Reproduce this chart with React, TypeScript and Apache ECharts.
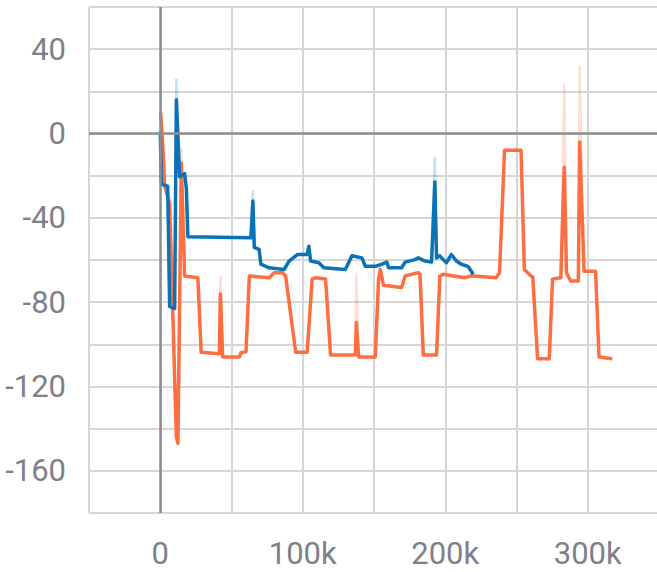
import React, { useEffect, useRef } from "react";
import * as echarts from "echarts";

// x in thousands of steps, y value
const blueSmoothed: [number, number][] = [
  [0, 1], [0.8, -24], [5.2, -25], [6.6, -82], [10.1, -83], [11.3, 16], [13.6, -20.5],
  [17.1, -19], [18.3, -26], [19.4, -49], [63.6, -49.5], [65, -32], [66, -54], [69.4, -55],
  [70.6, -62], [76.4, -63.7], [86.9, -64.5], [90.4, -60.5], [96.2, -57.4], [103.1, -57.4],
  [104.3, -53.5], [105.5, -60.5], [111.3, -61.3], [114.8, -63.7], [129.9, -64.5],
  [134.5, -58], [141.5, -59], [143.9, -63], [150.9, -63], [155.5, -62], [159, -61],
  [160.2, -63.7], [169.4, -63.7], [171.8, -61], [178.8, -59.8], [181.1, -59], [185.8, -60.5],
  [190.4, -61], [192.7, -23], [193.9, -59], [196.2, -58], [198.5, -59.8], [200.8, -61.3],
  [204.3, -57.4], [207.8, -60.5], [211.3, -62], [215.9, -63], [218.3, -65.3], [219.5, -66.8],
];

const orangeSmoothed: [number, number][] = [
  [0.3, 10], [2, -8], [3.1, -25], [6.6, -33], [11.3, -144], [12.4, -147], [14.8, -14],
  [17.1, -67.6], [26.4, -68.4], [28.7, -103.7], [41.5, -104.5], [42.2, -76], [43.8, -106],
  [55.5, -106], [56.7, -104], [60.2, -103.5], [62.5, -67.6], [76.4, -68.4], [79.9, -66],
  [85.7, -66], [88, -67.6], [95, -103.7], [103.1, -103.7], [106.6, -69], [109, -68.4],
  [116, -69], [119.5, -105], [136.9, -105], [137.6, -89.6], [139.2, -106], [150.9, -106],
  [153.2, -69], [154.4, -64.5], [156.7, -72], [169.4, -73], [171.8, -67.6], [181.1, -66],
  [182.3, -67], [184.6, -105], [193.9, -105], [196.2, -67.6], [198.5, -66.8], [213.7, -68.4],
  [218.3, -67.5], [235.7, -68.4], [238.1, -66], [241.6, -8], [253.2, -8], [255.5, -64.5],
  [260.2, -67.6], [261.4, -68], [264.8, -106.8], [273, -106.8], [275.3, -69], [281.1, -68.4],
  [283.5, -16], [285.1, -66], [288, -70], [293.4, -70], [294.3, -4], [297.4, -65.3],
  [305.5, -65.3], [307.9, -106], [317.2, -106.8],
];

// raw (unsmoothed) spikes, null separates segments
const blueRaw: [number, number | null][] = [
  [10.1, -83], [11.3, 26], [13.6, -20.5], [13.7, null],
  [63.6, -49.5], [65, -27], [66, -54], [66.1, null],
  [190.4, -61], [192.7, -11], [193.9, -59],
];

const orangeRaw: [number, number | null][] = [
  [13.6, -30], [14.8, -6.5], [17.1, -67.6], [17.2, null],
  [41.5, -104.5], [42.2, -67.6], [43.8, -106], [43.9, null],
  [136.9, -105], [137.6, -66], [139.2, -106], [139.3, null],
  [281.1, -68.4], [283.5, 23.4], [285.1, -66], [285.2, null],
  [293.4, -70], [294.3, 32], [297.4, -65.3],
];

const xRange = { min: -50, max: 350, interval: 50 };
const yRange = { min: -180, max: 60, interval: 20 };

const BLUE = "#0a72b6";
const ORANGE = "#ff6e40";

export default function App() {
  const ref = useRef<HTMLDivElement>(null);
  useEffect(() => {
    if (!ref.current) return;
    const chart = echarts.init(ref.current, undefined, { renderer: "svg" });
    const gridColor = "#d6d6d6";
    const labelStyle = { color: "#808088", fontSize: 31, fontFamily: "Roboto" };
    chart.setOption({
      animation: false,
      backgroundColor: "#ffffff",
      grid: { left: 89, right: 0, top: 7, bottom: 59, containLabel: false },
      xAxis: {
        type: "value",
        min: xRange.min,
        max: xRange.max,
        interval: xRange.interval,
        axisLine: { show: false },
        axisTick: { show: true, length: 13, lineStyle: { color: gridColor, width: 2 } },
        splitLine: { show: true, lineStyle: { color: gridColor, width: 2 } },
        axisLabel: {
          ...labelStyle,
          margin: 25,
          showMinLabel: true,
          showMaxLabel: true,
          formatter: (v: number) => (v % 100 === 0 ? (v === 0 ? "0" : `${v}k`) : ""),
        },
      },
      yAxis: {
        type: "value",
        min: yRange.min,
        max: yRange.max,
        interval: yRange.interval,
        axisLine: { show: false },
        axisTick: { show: true, length: 12, lineStyle: { color: gridColor, width: 2 } },
        splitLine: { show: true, lineStyle: { color: gridColor, width: 2 } },
        axisLabel: {
          ...labelStyle,
          margin: 23,
          formatter: (v: number) => (v % 40 === 0 ? String(v) : ""),
        },
      },
      series: [
        {
          type: "line",
          data: orangeRaw,
          showSymbol: false,
          connectNulls: false,
          lineStyle: { color: ORANGE, width: 2.5, opacity: 0.22 },
          itemStyle: { color: ORANGE },
          z: 2,
          markLine: {
            silent: true,
            symbol: ["none", "none"],
            label: { show: false },
            lineStyle: { color: "#8e8e8e", width: 2.5, type: "solid" },
            data: [{ yAxis: 0 }, { xAxis: 0 }],
          },
        },
        {
          type: "line",
          data: blueRaw,
          showSymbol: false,
          connectNulls: false,
          lineStyle: { color: BLUE, width: 2.5, opacity: 0.22 },
          itemStyle: { color: BLUE },
          z: 2,
        },
        {
          type: "line",
          data: orangeSmoothed,
          showSymbol: false,
          lineStyle: { color: ORANGE, width: 3.5, join: "round" },
          itemStyle: { color: ORANGE },
          z: 3,
        },
        {
          type: "line",
          data: blueSmoothed,
          showSymbol: false,
          lineStyle: { color: BLUE, width: 3.5, join: "round" },
          itemStyle: { color: BLUE },
          z: 4,
        },
      ],
    });
    return () => chart.dispose();
  }, []);
  return (
    <div
      ref={ref}
      style={{ position: "fixed", left: 0, top: 0, width: 662, height: 572, background: "#fff" }}
    />
  );
}
